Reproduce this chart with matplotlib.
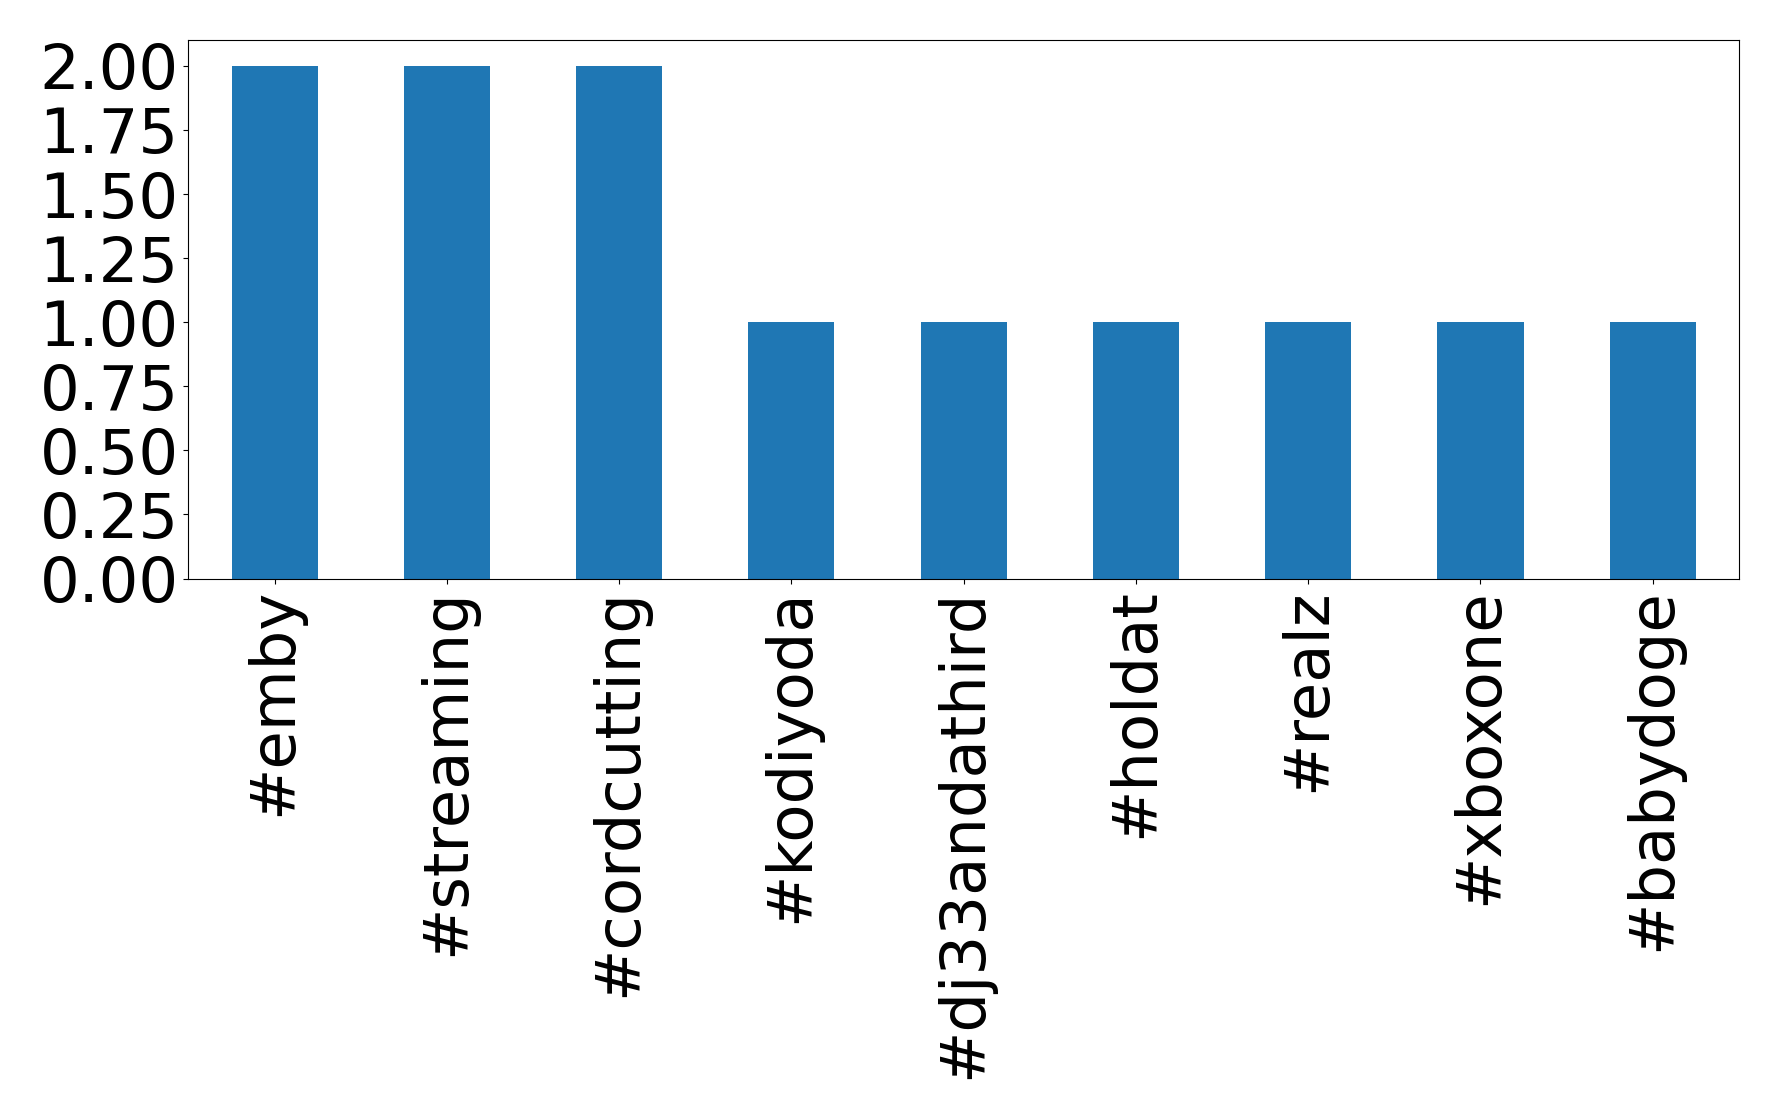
import matplotlib
matplotlib.use("Agg")
import matplotlib.pyplot as plt
import pandas as pd

# hashtag counts
hashtags = ["#emby", "#streaming", "#cordcutting", "#kodiyoda", "#dj33andathird",
            "#holdat", "#realz", "#xboxone", "#babydoge"]
counts = [2, 2, 2, 1, 1, 1, 1, 1, 1]

s = pd.Series(counts, index=hashtags)

fig = plt.figure(figsize=(17.78, 11.19), dpi=100)
ax = fig.add_axes([0.106, 0.483, 0.872, 0.481])
s.plot(kind="bar", ax=ax, fontsize=45, color="#1f77b4")
ax.set_yticks([0, 0.25, 0.5, 0.75, 1.0, 1.25, 1.5, 1.75, 2.0])
ax.set_yticklabels(["%.2f" % v for v in ax.get_yticks()])

fig.savefig("out.png", dpi=100)
